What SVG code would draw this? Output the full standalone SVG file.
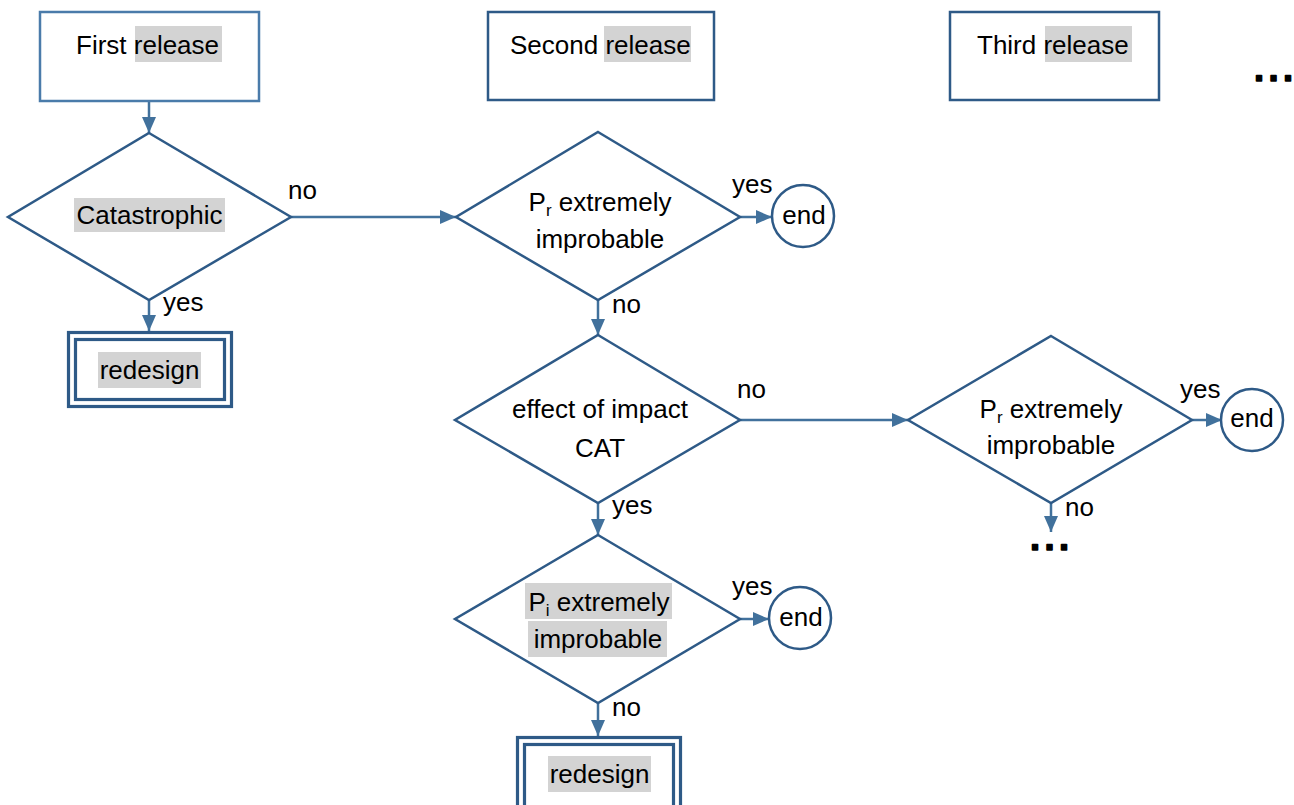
<svg xmlns="http://www.w3.org/2000/svg" width="1294" height="805" viewBox="0 0 1294 805">
<defs>
<style>
text{font-family:"Liberation Sans",Arial,sans-serif;font-size:26px;fill:#000}
.c{text-anchor:middle}
.box{fill:#fff;stroke:#2E5A87;stroke-width:2.5}
.box1{fill:#fff;stroke:#4A7BAA;stroke-width:2.5}
.dia{fill:#fff;stroke:#2E5A87;stroke-width:2.5}
.dbl{fill:none;stroke:#2E5A87;stroke-width:3.2}
.circ{fill:#fff;stroke:#2E5A87;stroke-width:2.5}
.hl{fill:#D3D3D3}
.con{fill:none;stroke:#41719C;stroke-width:2.5;marker-end:url(#ah)}
.dots{font-family:"DejaVu Sans",sans-serif;font-weight:bold;font-size:29px;stroke:#000;stroke-width:1.5;stroke-linejoin:round}
</style>
<marker id="ah" markerUnits="userSpaceOnUse" viewBox="0 0 16 14" refX="16" refY="7" markerWidth="16" markerHeight="14" orient="auto">
<path d="M0,0 L16,7 L0,14 Z" fill="#41719C"/>
</marker>
</defs>

<g id="connectors">
<path class="con" d="M149,101 L149,133"/>
<path class="con" d="M291,217 L456,217"/>
<path class="con" d="M149,300 L149,331"/>
<path class="con" d="M740,217 L772,217"/>
<path class="con" d="M598,300 L598,335"/>
<path class="con" d="M740,420 L908,420"/>
<path class="con" d="M598,503 L598,535"/>
<path class="con" d="M1192,420 L1222,420"/>
<path class="con" d="M1051,503 L1051,532"/>
<path class="con" d="M740,619 L769,619"/>
<path class="con" d="M598,703 L598,736"/>
</g>

<g id="first-release">
<rect class="box1" x="40" y="12" width="219" height="89"/>
<rect class="hl" x="135" y="26" width="87" height="36"/>
<text x="76" y="54">First release</text>
</g>

<g id="second-release">
<rect class="box" x="488" y="12" width="226" height="88"/>
<rect class="hl" x="604" y="26" width="87" height="36"/>
<text x="510" y="54">Second release</text>
</g>

<g id="third-release">
<rect class="box" x="950" y="12" width="209" height="88"/>
<rect class="hl" x="1045" y="26" width="87" height="36"/>
<text x="977" y="54">Third release</text>
</g>

<g id="more-releases">
<text class="dots" x="1253.5 1268 1282.5" y="81">...</text>
</g>

<g id="catastrophic">
<polygon class="dia" points="149,133 291,217 149,300 8,217"/>
<rect class="hl" x="74" y="198" width="151" height="34"/>
<text class="c" x="149.5" y="224">Catastrophic</text>
</g>

<g id="redesign-1">
<rect class="dbl" x="68.5" y="332.5" width="163" height="74"/>
<rect class="dbl" x="75.5" y="339.5" width="149" height="60"/>
<rect class="hl" x="98" y="352" width="103" height="36"/>
<text class="c" x="149.5" y="379">redesign</text>
</g>

<g id="pr-improbable-1">
<polygon class="dia" points="598,132 740,217 598,300 456,217"/>
<text class="c" x="600" y="211">P<tspan font-size="17" dy="5">r</tspan><tspan dy="-5"> extremely</tspan></text>
<text class="c" x="600" y="248">improbable</text>
</g>

<g id="end-1">
<circle class="circ" cx="803" cy="216" r="31"/>
<text class="c" x="804" y="224">end</text>
</g>

<g id="effect-cat">
<polygon class="dia" points="598,335 740,420 598,503 455,420"/>
<text class="c" x="600" y="418">effect of impact</text>
<text class="c" x="600" y="457">CAT</text>
</g>

<g id="pr-improbable-2">
<polygon class="dia" points="1051,336 1192,420 1051,503 908,420"/>
<text class="c" x="1051" y="418">P<tspan font-size="17" dy="5">r</tspan><tspan dy="-5"> extremely</tspan></text>
<text class="c" x="1051" y="454">improbable</text>
</g>

<g id="end-2">
<circle class="circ" cx="1252" cy="420" r="31"/>
<text class="c" x="1252" y="427">end</text>
</g>

<g id="more-below">
<text class="dots" x="1029.5 1044 1058.5" y="550">...</text>
</g>

<g id="pi-improbable">
<polygon class="dia" points="598,535 740,619 598,703 455,619"/>
<rect class="hl" x="525" y="583" width="147" height="36"/>
<rect class="hl" x="528" y="621" width="139" height="36"/>
<text class="c" x="599" y="611">P<tspan font-size="17" dy="5">i</tspan><tspan dy="-5"> extremely</tspan></text>
<text class="c" x="598" y="648">improbable</text>
</g>

<g id="end-3">
<circle class="circ" cx="800" cy="618" r="31"/>
<text class="c" x="801" y="626">end</text>
</g>

<g id="redesign-2">
<rect class="dbl" x="517.5" y="737.5" width="163" height="80"/>
<rect class="dbl" x="524.5" y="744.5" width="149" height="70"/>
<rect class="hl" x="548" y="756" width="103" height="36"/>
<text class="c" x="599.5" y="783">redesign</text>
</g>

<g id="labels">
<text x="288" y="199">no</text>
<text x="163" y="311">yes</text>
<text x="732" y="193">yes</text>
<text x="612" y="313">no</text>
<text x="737" y="398">no</text>
<text x="612" y="514">yes</text>
<text x="1180" y="398">yes</text>
<text x="1065" y="516">no</text>
<text x="732" y="595">yes</text>
<text x="612" y="716">no</text>
</g>
</svg>
